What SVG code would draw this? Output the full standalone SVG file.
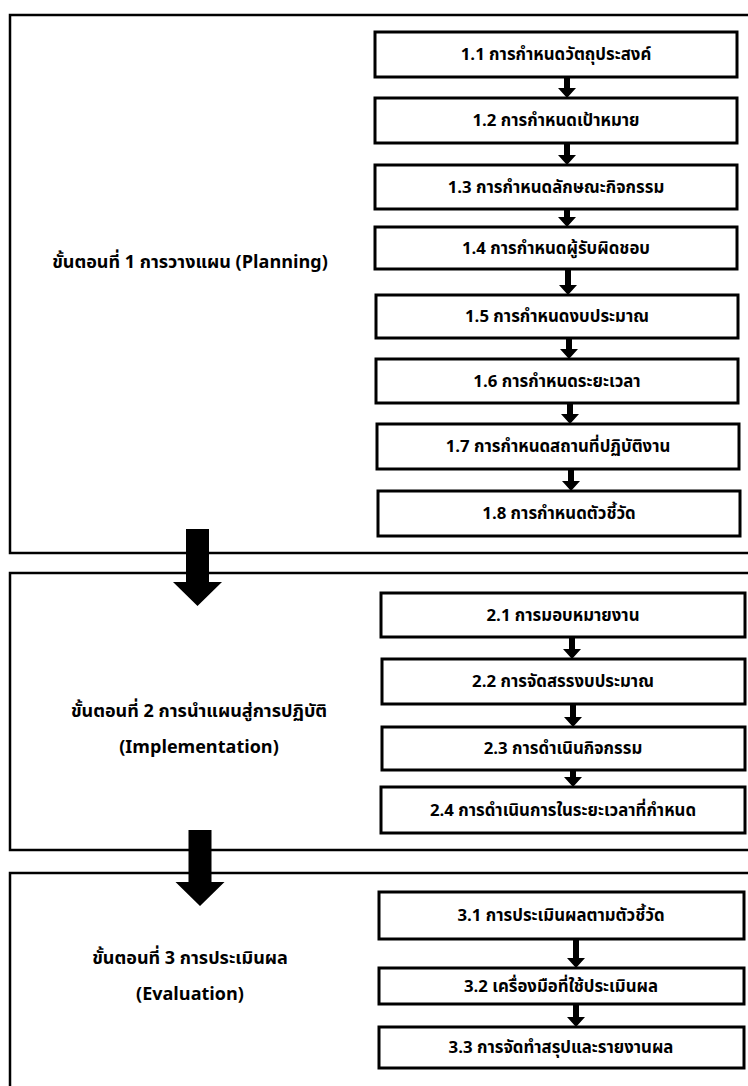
<svg xmlns="http://www.w3.org/2000/svg" width="748" height="1086" viewBox="0 0 748 1086">
<style>
.sec{fill:#fff;stroke:#000;stroke-width:2.5}
.box{fill:#fff;stroke:#000;stroke-width:3}
.t{font-family:"Noto Sans Thai","Leelawadee UI",Tahoma,"Noto Sans","DejaVu Sans",sans-serif;font-size:16.8px;font-weight:bold;fill:#000;text-anchor:middle}
.lbl{font-family:"Noto Sans Thai","Leelawadee UI",Tahoma,"Noto Sans","DejaVu Sans",sans-serif;font-size:18px;font-weight:bold;fill:#000;text-anchor:middle}
.arr{fill:#000}
</style>
<rect width="748" height="1086" fill="#fff"/>
<g id="section1">
<rect class="sec" x="10" y="15" width="760" height="538"/>
<text class="lbl" x="190" y="268">ขั้นตอนที่ 1 การวางแผน (Planning)</text>
</g>
<g id="section2">
<rect class="sec" x="10" y="573" width="760" height="277"/>
<text class="lbl" x="199" y="717">ขั้นตอนที่ 2 การนำแผนสู่การปฏิบัติ</text>
<text class="lbl" x="199" y="753">(Implementation)</text>
</g>
<g id="section3">
<rect class="sec" x="10" y="873" width="760" height="230"/>
<text class="lbl" x="190" y="964">ขั้นตอนที่ 3 การประเมินผล</text>
<text class="lbl" x="190" y="1000">(Evaluation)</text>
</g>
<g id="n1_1"><rect class="box" x="375" y="32" width="362" height="45"/><text class="t" x="556" y="60">1.1 การกำหนดวัตถุประสงค์</text></g>
<g id="n1_2"><rect class="box" x="375" y="98" width="362" height="45"/><text class="t" x="556" y="126">1.2 การกำหนดเป้าหมาย</text></g>
<g id="n1_3"><rect class="box" x="375" y="165" width="362" height="44"/><text class="t" x="556" y="193">1.3 การกำหนดลักษณะกิจกรรม</text></g>
<g id="n1_4"><rect class="box" x="375" y="227" width="362" height="42"/><text class="t" x="556" y="254">1.4 การกำหนดผู้รับผิดชอบ</text></g>
<g id="n1_5"><rect class="box" x="376" y="295" width="362" height="43"/><text class="t" x="557" y="322">1.5 การกำหนดงบประมาณ</text></g>
<g id="n1_6"><rect class="box" x="376" y="359" width="362" height="44"/><text class="t" x="557" y="387">1.6 การกำหนดระยะเวลา</text></g>
<g id="n1_7"><rect class="box" x="377" y="424" width="362" height="45"/><text class="t" x="558" y="452">1.7 การกำหนดสถานที่ปฏิบัติงาน</text></g>
<g id="n1_8"><rect class="box" x="378" y="491" width="362" height="45"/><text class="t" x="559" y="519">1.8 การกำหนดตัวชี้วัด</text></g>
<g id="n2_1"><rect class="box" x="381" y="593" width="364" height="44"/><text class="t" x="563" y="621">2.1 การมอบหมายงาน</text></g>
<g id="n2_2"><rect class="box" x="382" y="659" width="363" height="45"/><text class="t" x="563" y="687">2.2 การจัดสรรงบประมาณ</text></g>
<g id="n2_3"><rect class="box" x="382" y="727" width="363" height="43"/><text class="t" x="563" y="754">2.3 การดำเนินกิจกรรม</text></g>
<g id="n2_4"><rect class="box" x="381" y="787" width="364" height="46"/><text class="t" x="563" y="816">2.4 การดำเนินการในระยะเวลาที่กำหนด</text></g>
<g id="n3_1"><rect class="box" x="379" y="892" width="365" height="47"/><text class="t" x="561" y="921">3.1 การประเมินผลตามตัวชี้วัด</text></g>
<g id="n3_2"><rect class="box" x="379" y="968" width="365" height="36"/><text class="t" x="561" y="992">3.2 เครื่องมือที่ใช้ประเมินผล</text></g>
<g id="n3_3"><rect class="box" x="379" y="1027" width="365" height="41"/><text class="t" x="561" y="1053">3.3 การจัดทำสรุปและรายงานผล</text></g>
<g id="connectors">
<path class="arr" d="M186 529H209V582H222L197.5 606L173 582H186Z"/>
<path class="arr" d="M188.5 830H211.5V882H224.5L200 906L175.5 882H188.5Z"/>
<path class="arr" d="M564 77H570V88H576L567 98L558 88H564Z"/>
<path class="arr" d="M564 143H570V155H576L567 165L558 155H564Z"/>
<path class="arr" d="M564 209H570V217H576L567 227L558 217H564Z"/>
<path class="arr" d="M565 269H571V285H577L568 295L559 285H565Z"/>
<path class="arr" d="M566 338H572V349H578L569 359L560 349H566Z"/>
<path class="arr" d="M567 403H573V414H579L570 424L561 414H567Z"/>
<path class="arr" d="M568 469H574V481H580L571 491L562 481H568Z"/>
<path class="arr" d="M569 637H575V649H581L572 659L563 649H569Z"/>
<path class="arr" d="M570 704H576V717H582L573 727L564 717H570Z"/>
<path class="arr" d="M570 770H576V777H582L573 787L564 777H570Z"/>
<path class="arr" d="M573 939H579V958H585L576 968L567 958H573Z"/>
<path class="arr" d="M573 1004H579V1017H585L576 1027L567 1017H573Z"/>
</g>
</svg>
